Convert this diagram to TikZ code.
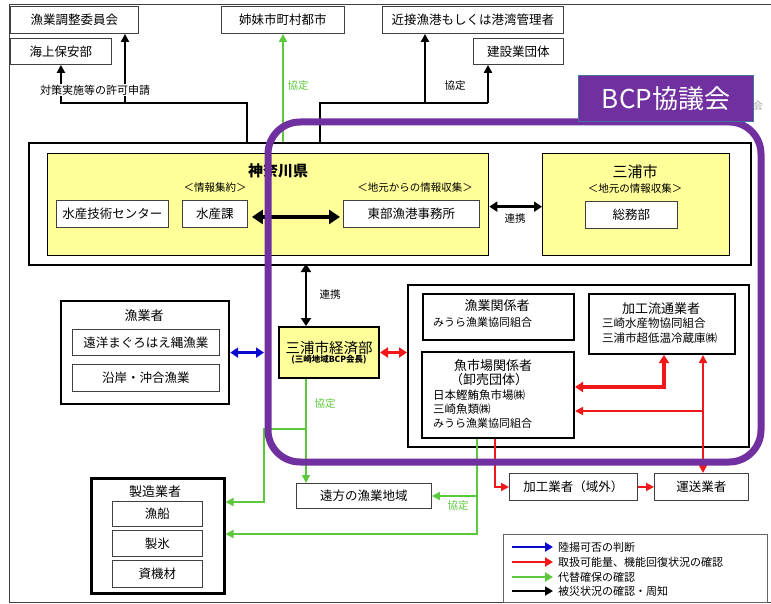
\documentclass[tikz,border=0pt]{standalone}
\usepackage{fontspec}
\setmainfont{Noto Sans CJK JP}
\usetikzlibrary{arrows.meta}
\definecolor{kyellow}{HTML}{FFFF99}
\definecolor{kpurple}{HTML}{7030A0}
\definecolor{kframe}{HTML}{41719C}
\definecolor{kgreen}{HTML}{5CC83B}
\definecolor{kred}{HTML}{F01818}
\definecolor{kblue}{HTML}{0A0AD0}
\newcommand\fsz[1]{\fontsize{#1}{\dimexpr#1pt*6/5\relax}\selectfont}
\begin{document}
\begin{tikzpicture}[x=1pt,y=-1pt,
  mw/.style={minimum width=#1pt}, mh/.style={minimum height=#1pt},
  tbox/.style={draw=black!75, line width=0.9pt, fill=white, anchor=north west, inner sep=0pt, font=\fsz{12.5}},
  thbox/.style={draw=black, line width=2.2pt, fill=white, anchor=north west, inner sep=0pt},
  ybox/.style={draw=black, line width=1.3pt, fill=kyellow, anchor=north west, inner sep=0pt},
  lbl/.style={inner sep=1pt, font=\fsz{10.5}},
  txt/.style={inner sep=0pt, anchor=west, font=\fsz{11.5}},
  ttl/.style={inner sep=0pt, font=\fsz{13}},
  blkline/.style={draw=black, line width=2pt},
  blkarr/.style={draw=black, line width=2pt, -{Triangle[length=8pt,width=8pt]}},
  bigdbl/.style={draw=black, line width=3.5pt, {Triangle[length=11pt,width=14pt]}-{Triangle[length=11pt,width=14pt]}},
  meddbl/.style={draw=black, line width=2.5pt, {Triangle[length=8pt,width=10pt]}-{Triangle[length=8pt,width=10pt]}},
  garr/.style={draw=kgreen, line width=1.6pt, -{Triangle[length=8pt,width=8pt]}},
  gline/.style={draw=kgreen, line width=1.6pt},
  rarr/.style={draw=kred, line width=1.6pt, -{Triangle[length=8pt,width=8pt]}},
  rline/.style={draw=kred, line width=1.6pt},
  rdbl/.style={draw=kred, line width=1.6pt, {Triangle[length=8pt,width=8pt]}-{Triangle[length=8pt,width=8pt]}},
  rthick/.style={draw=kred, line width=3.2pt, {Triangle[length=8pt,width=10pt]}-{Triangle[length=8pt,width=10pt]}},
  bdbl/.style={draw=kblue, line width=3pt, {Triangle[length=8pt,width=10pt]}-{Triangle[length=8pt,width=10pt]}},
  legarr/.style={line width=2.5pt, -{Triangle[length=8pt,width=9pt]}}
]
\useasboundingbox (0,0) rectangle (771,604);
% outer frame
\coordinate (fTR) at (771,5); \coordinate (fTL) at (9,5);
\coordinate (fBL) at (9,602); \coordinate (fBR) at (771,602);
\draw[black!75, line width=1pt] (fTR) -- (fTL) -- (fBL) -- (fBR);

% top boxes
\node[tbox,mw=128,mh=27] (chosei) at (10,6) {漁業調整委員会};
\node[tbox,mw=101,mh=26] (kaijo) at (10,38) {海上保安部};
\node[tbox,mw=123,mh=27] (shimai) at (221,6) {姉妹市町村都市};
\node[tbox,mw=181,mh=27] (kinsetsu) at (382,6) {近接漁港もしくは港湾管理者};
\node[tbox,mw=90,mh=26] (kensetsu) at (473,38) {建設業団体};

% Kanagawa / Miura container
\node[thbox, line width=1.8pt, mw=722, mh=122] (kcont) at (28,142) {};
\node[ybox,mw=441,mh=102] (kanagawa) at (47,153) {};
\node[inner sep=0pt, font=\fsz{15}\bfseries] (kanagawaT) at (278,171) {神奈川県};
\node[lbl] (shuyaku) at (215,188) {＜情報集約＞};
\node[lbl] (jimoto) at (415,188) {＜地元からの情報収集＞};
\node[tbox,mw=112,mh=27] (gijutsu) at (56,200) {水産技術センター};
\node[tbox,mw=65,mh=27] (suisanka) at (182,200) {水産課};
\node[tbox,mw=136,mh=27] (tobu) at (343,200) {東部漁港事務所};
\node[ybox,mw=187,mh=102] (miura) at (542,153) {};
\node[inner sep=0pt, font=\fsz{15}] (miuraT) at (635,172) {三浦市};
\node[lbl] (miuraS) at (635,189) {＜地元の情報収集＞};
\node[tbox,mw=92,mh=27] (somu) at (585,201) {総務部};
\draw[bigdbl, shorten <=4pt, shorten >=3pt] ([yshift=-3pt]suisanka.east) -- ([yshift=-3pt]tobu.west);
\draw[meddbl] ([yshift=-2pt]kanagawa.east) -- ([yshift=-2pt]miura.west);
\node[lbl] (renkei1) at (515,219) {連携};

% top connectors
\coordinate (a0) at (247,142); \coordinate (a1) at (247,103); \coordinate (a2) at (125,103);
\draw[blkarr] (a0) -- (a1) -| (kaijo.south);
\draw[blkarr] (a2) -- (a2 |- chosei.south);
\node[lbl, fill=white, font=\fsz{11}] (kyoka) at (95,90) {対策実施等の許可申請};
\coordinate (b0) at (283,142);
\draw[garr] (b0) -- (b0 |- shimai.south);
\node[lbl, text=kgreen] (kyotei1) at (298,86) {協定};
\coordinate (c0) at (320,142); \coordinate (c1) at (320,103);
\coordinate (c2) at (425,103); \coordinate (c3) at (488,103);
\draw[blkline] (c0) -- (c1) -- (c3);
\draw[blkarr] (c2) -- (c2 |- kinsetsu.south);
\draw[blkarr] (c3) -- (c3 |- kensetsu.south);
\node[lbl] (kyotei2) at (455,86) {協定};

% Miura keizai
\node[ybox, line width=2pt, mw=100, mh=51, align=center] (keizai) at (278,326)
  {\fsz{14.5}三浦市経済部\\[-3pt]\fsz{8.5}\bfseries (三崎地域BCP会長)};
\coordinate (d0) at (306,264);
\draw[meddbl] (d0) -- (d0 |- keizai.north);
\node[lbl] (renkei2) at (330,295) {連携};

% fishermen
\node[thbox, mw=168, mh=103] (gyosha) at (60,300) {};
\node[ttl] (gyoshaT) at (144,316) {漁業者};
\node[tbox,mw=147,mh=26] (enyo) at (72,329) {遠洋まぐろはえ縄漁業};
\node[tbox,mw=147,mh=27] (engan) at (72,364) {沿岸・沖合漁業};
\coordinate (bl) at (264,352);
\draw[bdbl] (gyosha.east) -- (gyosha.east -| bl);

% right container
\node[thbox, mw=341, mh=162] (rcont) at (407,284) {};
\draw[rthick, line width=3pt] (keizai.east) -- (keizai.east -| rcont.west);
\node[thbox, line width=2pt, mw=151, mh=46] (gyokan) at (422,293) {};
\node[ttl] (gyokanT) at (497,306) {漁業関係者};
\node[txt, font=\fsz{11}] (gyokan1) at (433,322) {みうら漁業協同組合};
\node[thbox, line width=2pt, mw=146, mh=60] (kako) at (588,293) {};
\node[ttl] (kakoT) at (661,309) {加工流通業者};
\node[txt] (kako1) at (602,323) {三崎水産物協同組合};
\node[txt] (kako2) at (602,338) {三浦市超低温冷蔵庫㈱};
\node[thbox, line width=2pt, mw=152, mh=86] (uoichi) at (421,351) {};
\node[ttl] (uoichiT) at (493,366) {魚市場関係者};
\node[ttl] (uoichiS) at (489,380) {（卸売団体）};
\node[txt] (uo1) at (433,395) {日本鰹鮪魚市場㈱};
\node[txt] (uo2) at (433,409) {三崎魚類㈱};
\node[txt, font=\fsz{11}] (uo3) at (433,423) {みうら漁業協同組合};

% lower boxes
\node[tbox,mw=128,mh=27] (kakogyo) at (509,473) {加工業者（域外）};
\node[tbox,mw=94,mh=27] (unso) at (654,473) {運送業者};
\node[tbox,mw=135,mh=25] (enpo) at (296,483) {遠方の漁業地域};
\node[thbox, line width=2.5pt, mw=133, mh=115] (seizo) at (90,477) {};
\node[ttl] (seizoT) at (155,492) {製造業者};
\node[tbox,mw=90,mh=25] (gyosen) at (112,501) {漁船};
\node[tbox,mw=90,mh=26] (seihyo) at (112,530) {製氷};
\node[tbox,mw=90,mh=27] (shikizai) at (112,560) {資機材};

% red connectors
\coordinate (k1) at (664,387);
\draw[rthick] (k1 -| uoichi.east) -- (k1) -- (k1 |- kako.south);
\coordinate (k2) at (703,411);
\draw[rdbl] (k2 |- unso.north) -- (k2 |- kako.south);
\draw[rarr] (k2) -- (k2 -| uoichi.east);
\coordinate (k3) at (495,487);
\draw[rarr] (k3 |- uoichi.south) -- (k3) -- (kakogyo.west);
\draw[rarr] (kakogyo.east) -- (unso.west);

% green connectors
\coordinate (g0) at (306,377);
\draw[garr] (g0 |- keizai.south) -- (g0 |- enpo.north);
\node[lbl, text=kgreen] (kyotei3) at (325,404) {協定};
\coordinate (g1) at (306,429); \coordinate (g2) at (264,429); \coordinate (g3) at (264,502);
\draw[garr] (g1) -- (g2) -- (g3) -- (g3 -| seizo.east);
\coordinate (g4) at (477,534); \coordinate (g5) at (477,496);
\draw[garr] (g4 |- uoichi.south) -- (g4) -- (g4 -| seizo.east);
\draw[garr] (g5) -- (g5 -| enpo.east);
\node[lbl, text=kgreen] (kyotei4) at (458,506) {協定};

% legend
\node[draw=black!60, line width=1pt, fill=white, anchor=north west, inner sep=0pt, mw=264, mh=68] (legend) at (503,534) {};
\foreach \y/\c/\t [count=\i] in {547/kblue/陸揚可否の判断, 562/kred/取扱可能量、機能回復状況の確認, 577/kgreen/代替確保の確認, 591/black/被災状況の確認・周知}{
  \coordinate (ls\i) at (512,\y); \coordinate (le\i) at (553,\y);
  \draw[legarr, draw=\c, fill=\c] (ls\i) -- (le\i);
  \node[txt, font=\fsz{11}] (lt\i) at (558,\y) {\t};
}

% BCP council
\draw[kpurple, line width=7pt, rounded corners=32pt] (268,122) rectangle (761,462);
\node[inner sep=0pt, text=black!35, font=\fsz{10}] (kai) at (758,106) {会};
\node[fill=kpurple, draw=kframe, line width=1pt, anchor=north west, mw=175, mh=46, inner sep=0pt, text=white, font=\fsz{26}] (bcp) at (578,75) {BCP協議会};
\end{tikzpicture}
\end{document}
